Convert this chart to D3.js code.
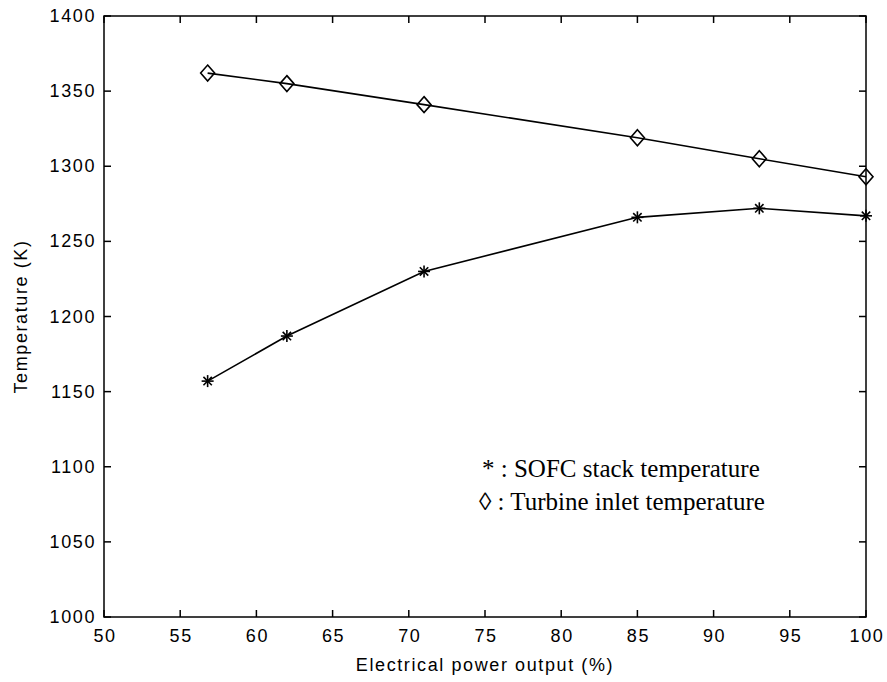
<!DOCTYPE html>
<html>
<head>
<meta charset="utf-8">
<script src="https://cdn.jsdelivr.net/npm/d3@7"></script>
<style>
  html, body { margin:0; padding:0; background:#fff; }
  svg text { fill:#000; }
  .tick-lbl { font-family:"Liberation Sans", Arial, sans-serif; font-size:18px; letter-spacing:1.6px; }
  .legend { font-family:"Liberation Serif", "Times New Roman", serif; font-size:25px; }
</style>
</head>
<body>
<svg id="chart" width="887" height="682"></svg>
<script>
// ── data ──
const power      = [56.8, 62, 71, 85, 93, 100];
const sofcTemp   = [1157, 1187, 1230, 1266, 1272, 1267];
const turbTemp   = [1362, 1355, 1341, 1319, 1305, 1293];
const xTicks     = [50, 55, 60, 65, 70, 75, 80, 85, 90, 95, 100];
const yTicks     = [1000, 1050, 1100, 1150, 1200, 1250, 1300, 1350, 1400];

const svg = d3.select('#chart');
const L = 104, R = 866, T = 16, B = 617;

const x = d3.scaleLinear().domain([50, 100]).range([L, R]);
const y = d3.scaleLinear().domain([1000, 1400]).range([B, T]);

// frame + inward ticks on all four sides
const axis = svg.append('g').attr('stroke', '#000').attr('stroke-width', 1.5).attr('fill', 'none');
axis.append('rect').attr('x', L).attr('y', T).attr('width', R - L).attr('height', B - T);
xTicks.forEach(v => {
  axis.append('line').attr('x1', x(v)).attr('x2', x(v)).attr('y1', B).attr('y2', B - 7);
  axis.append('line').attr('x1', x(v)).attr('x2', x(v)).attr('y1', T).attr('y2', T + 7);
});
yTicks.forEach(v => {
  axis.append('line').attr('x1', L).attr('x2', L + 7).attr('y1', y(v)).attr('y2', y(v));
  axis.append('line').attr('x1', R).attr('x2', R - 7).attr('y1', y(v)).attr('y2', y(v));
});

svg.append('g').selectAll('text').data(xTicks).enter().append('text')
  .attr('class', 'tick-lbl').attr('x', d => x(d) + 1).attr('y', B + 25)
  .attr('text-anchor', 'middle').text(d => d);
svg.append('g').selectAll('text').data(yTicks).enter().append('text')
  .attr('class', 'tick-lbl').attr('x', L - 8).attr('y', d => y(d) + 6)
  .attr('text-anchor', 'end').text(d => d);

svg.append('text').attr('class', 'tick-lbl').attr('x', (L + R) / 2).attr('y', 671)
  .attr('text-anchor', 'middle').text('Electrical power output (%)');
svg.append('text').attr('class', 'tick-lbl')
  .attr('transform', 'translate(27,' + ((T + B) / 2) + ') rotate(-90)')
  .attr('text-anchor', 'middle').text('Temperature (K)');

// lines
const line = d3.line().x(d => x(d[0])).y(d => y(d[1]));
const sofc = power.map((p, i) => [p, sofcTemp[i]]);
const turb = power.map((p, i) => [p, turbTemp[i]]);
[sofc, turb].forEach(s => svg.append('path').datum(s).attr('d', line)
  .attr('fill', 'none').attr('stroke', '#000').attr('stroke-width', 1.6));

// markers: asterisks (8 arms) and diamonds
const star = svg.append('g').attr('stroke', '#000').attr('stroke-width', 1.6);
sofc.forEach(d => {
  const cx = x(d[0]), cy = y(d[1]), r = 6;
  [[0, r], [r, 0], [r * 0.7, r * 0.7], [r * 0.7, -r * 0.7]].forEach(a => {
    star.append('line').attr('x1', cx - a[0]).attr('y1', cy - a[1]).attr('x2', cx + a[0]).attr('y2', cy + a[1]);
  });
});
svg.append('g').selectAll('path').data(turb).enter().append('path')
  .attr('d', d => {
    const cx = x(d[0]), cy = y(d[1]), w = 7, h = 8;
    return 'M' + cx + ',' + (cy - h) + 'L' + (cx + w) + ',' + cy + 'L' + cx + ',' + (cy + h) + 'L' + (cx - w) + ',' + cy + 'Z';
  })
  .attr('fill', 'none').attr('stroke', '#000').attr('stroke-width', 1.6);

// legend
svg.append('text').attr('class', 'legend').attr('x', 482).attr('y', 477).text('* : SOFC stack temperature');
svg.append('text').attr('class', 'legend').attr('x', 479).attr('y', 510).text('\u25CA : Turbine inlet temperature');
</script>
</body>
</html>
